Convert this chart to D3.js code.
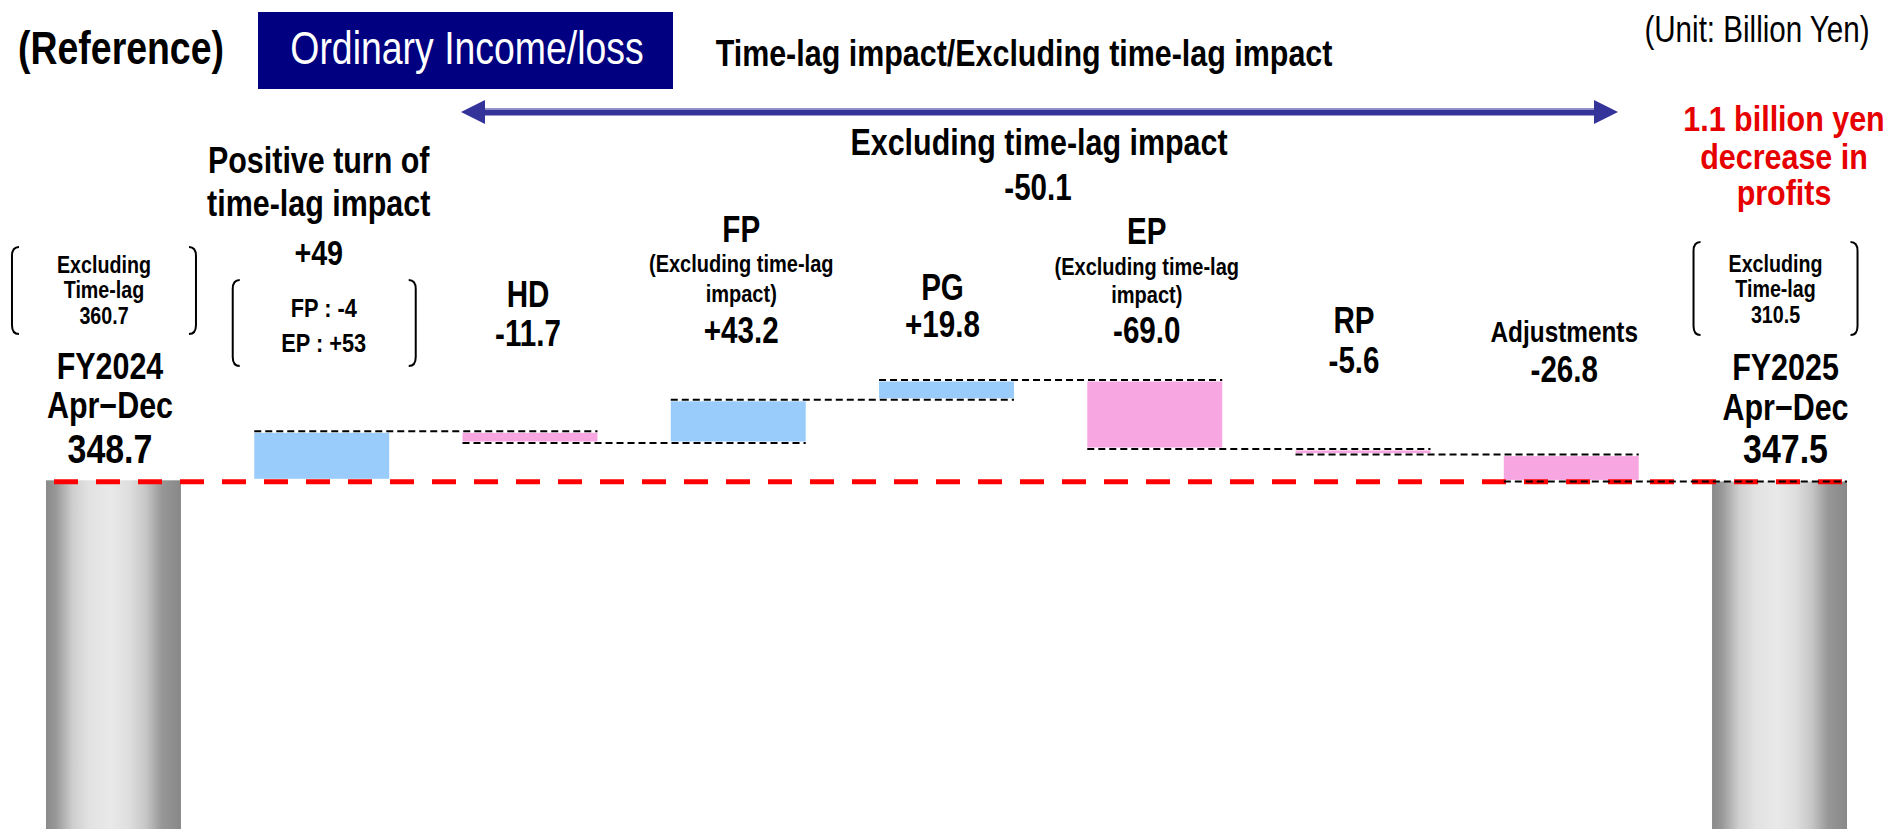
<!DOCTYPE html>
<html>
<head>
<meta charset="utf-8">
<script src="https://cdn.jsdelivr.net/npm/d3@7"></script>
<style>
  html, body { margin: 0; padding: 0; background: #fff; }
  svg { display: block; }
  text { font-family: "Liberation Sans", Arial, Helvetica, sans-serif; }
</style>
</head>
<body>
<svg id="chart" width="1889" height="829"></svg>
<script>
// ---- Data (billion yen) ----
const categories = ["FY2024", "TimeLag", "HD", "FP", "PG", "EP", "RP", "Adjustments", "FY2025"];
const kinds      = ["total", "delta", "delta", "delta", "delta", "delta", "delta", "delta", "total"];
const values     = [348.7, 49, -11.7, 43.2, 19.8, -69.0, -5.6, -26.8, 347.5];
const valueLabels = ["348.7", "+49", "-11.7", "+43.2", "+19.8", "-69.0", "-5.6", "-26.8", "347.5"];
const excludingTimeLag = ["360.7", "310.5"];
const timeLagSplit = ["FP : -4", "EP : +53"];
const headerTitle = "Ordinary Income/loss";
const unitNote = "(Unit: Billion Yen)";
const resultNote = ["1.1 billion yen", "decrease in", "profits"];

// ---- Layout ----
const W = 1889, H = 829;
const GROW = 1.06;             // condensed face: taller glyphs ...
const NARROW = 0.87 / GROW;    // ... squeezed horizontally to keep widths
const svg = d3.select("#chart");

const x = d3.scaleBand().domain(categories).range([46, 1847]).paddingInner(0.352).paddingOuter(0);
const y = d3.scaleLinear().domain([0, 450]).range([829, 379]);
const bw = x.bandwidth();
const cx = c => x(c) + bw / 2;

// waterfall steps
let running = 0;
const steps = categories.map((c, i) => {
  if (kinds[i] === "total") {
    running = values[i];
    return { c, kind: "total", a: 0, b: values[i] };
  }
  const a = running;
  running += values[i];
  return { c, kind: values[i] >= 0 ? "up" : "down", a, b: running };
});

// ---- Defs: cylinder shading for totals ----
const defs = svg.append("defs");
const grad = defs.append("linearGradient").attr("id", "cyl")
  .attr("x1", "0%").attr("x2", "100%").attr("y1", "0%").attr("y2", "0%");
[["0%", "#8a8a8a"], ["7%", "#979797"], ["20%", "#cfcfcf"], ["32%", "#e2e2e2"],
 ["48%", "#e9e9e9"], ["62%", "#dedede"], ["74%", "#c6c6c6"], ["86%", "#979797"], ["100%", "#888888"]]
  .forEach(([o, c]) => grad.append("stop").attr("offset", o).attr("stop-color", c));

// ---- Text helper ----
function txt(g, str, px, base, size, opt = {}) {
  const grow = opt.grow || GROW;
  const sx = opt.sx || NARROW;
  return g.append("text")
    .attr("transform", `translate(${px},${base}) scale(${sx},1)`)
    .attr("text-anchor", opt.anchor || "middle")
    .attr("font-size", size * grow)
    .attr("font-weight", opt.weight || "bold")
    .attr("fill", opt.fill || "#000")
    .text(str);
}

// ---- Bars ----
const inset = 1.5;
const colors = { up: "#9ACCFB", down: "#F8A6E2" };
const barG = svg.append("g");
barG.selectAll("rect.total").data(steps.filter(d => d.kind === "total")).join("rect")
  .attr("class", "total")
  .attr("x", d => x(d.c)).attr("width", bw)
  .attr("y", d => y(d.b)).attr("height", d => y(0) - y(d.b))
  .attr("fill", "url(#cyl)");
barG.selectAll("rect.delta").data(steps.filter(d => d.kind !== "total")).join("rect")
  .attr("class", "delta")
  .attr("x", d => x(d.c)).attr("width", bw)
  .attr("y", d => y(Math.max(d.a, d.b)) + inset)
  .attr("height", d => Math.max(1.5, Math.abs(y(d.a) - y(d.b)) - 2 * inset))
  .attr("fill", d => colors[d.kind]);

// ---- Red dashed baseline at the starting total ----
svg.append("line")
  .attr("x1", 54).attr("x2", 1842)
  .attr("y1", y(values[0]) + 1.5).attr("y2", y(values[0]) + 1.5)
  .attr("stroke", "#ff0000").attr("stroke-width", 5)
  .attr("stroke-dasharray", "24,18");

// ---- Connectors between consecutive bars ----
const conn = [];
for (let i = 1; i < steps.length - 1; i++) {
  conn.push({ level: steps[i].b, x1: x(categories[i]), x2: x(categories[i + 1]) + bw });
}
svg.append("g").selectAll("line").data(conn).join("line")
  .attr("x1", d => d.x1).attr("x2", d => d.x2)
  .attr("y1", d => y(d.level)).attr("y2", d => y(d.level))
  .attr("stroke", "#000").attr("stroke-width", 2)
  .attr("stroke-dasharray", "7,4");

// ---- Header ----
const head = svg.append("g");
txt(head, "(Reference)", 121, 64, 43);
head.append("rect").attr("x", 258).attr("y", 12).attr("width", 415).attr("height", 77).attr("fill", "#000080");
txt(head, headerTitle, 467, 64, 43, { weight: "normal", fill: "#fff" });
txt(head, "Time-lag impact/Excluding time-lag impact", 1024, 66, 35);
txt(head, unitNote, 1757, 42, 34, { weight: "normal" });

// double-headed arrow spanning the time-lag segments
const ay = 112, ax1 = 461, ax2 = 1618, ah = 24, aw = 12;
const arrow = svg.append("g");
arrow.append("rect").attr("x", ax1 + ah - 2).attr("y", ay - 3.5).attr("width", ax2 - ax1 - 2 * ah + 4).attr("height", 7).attr("fill", "#333399");
arrow.append("rect").attr("x", ax1 + ah - 2).attr("y", ay - 3.5).attr("width", ax2 - ax1 - 2 * ah + 4).attr("height", 1.5).attr("fill", "#8d8dc8");
arrow.append("path").attr("d", `M${ax1},${ay} L${ax1 + ah},${ay - aw} L${ax1 + ah},${ay + aw} Z`).attr("fill", "#333399");
arrow.append("path").attr("d", `M${ax2},${ay} L${ax2 - ah},${ay - aw} L${ax2 - ah},${ay + aw} Z`).attr("fill", "#333399");

// overall caption for the time-lag-excluded part
const totalExcl = d3.sum(values.slice(2, 8));
txt(svg, "Excluding time-lag impact", 1039, 155, 35);
txt(svg, totalExcl.toFixed(1), 1038, 200, 34);

// result note
resultNote.forEach((s, i) => txt(svg, s, 1784, [131, 168.5, 205][i], 35, { fill: "#e60000", grow: 1, sx: 0.87 }));

// ---- Category labels ----
const labelSpec = [
  { dx: -3.5, lines: [["FY2024", 379, 35], ["Apr\u2212Dec", 418, 35], [valueLabels[0], 463, 39]] },
  { dx: -3,   lines: [["Positive turn of", 173, 35], ["time-lag impact", 216, 35], [valueLabels[1], 265, 33]] },
  { dx: -2,   lines: [["HD", 307, 34], [valueLabels[2], 346, 34]] },
  { dx: 3,    lines: [["FP", 242, 34], ["(Excluding time-lag", 272, 23], ["impact)", 302, 23], [valueLabels[3], 343, 34]] },
  { dx: -4,   lines: [["PG", 300, 34], [valueLabels[4], 337, 34]] },
  { dx: -8,   lines: [["EP", 244, 34], ["(Excluding time-lag", 275, 23], ["impact)", 303, 23], [valueLabels[5], 343, 34]] },
  { dx: -9,   lines: [["RP", 333, 34], [valueLabels[6], 373, 34]] },
  { dx: -7,   lines: [["Adjustments", 342, 28], [valueLabels[7], 382, 34]] },
  { dx: 6,    lines: [["FY2025", 380, 35], ["Apr\u2212Dec", 420, 35], [valueLabels[8], 463, 39]] }
];
const labG = svg.append("g");
labelSpec.forEach((spec, i) => {
  spec.lines.forEach(([s, base, size]) => txt(labG, s, cx(categories[i]) + spec.dx, base, size));
});

// ---- Bracketed notes ----
function bracketBox(g, left, right, top, bottom) {
  const h = 7, v = 9;
  g.append("path").attr("d", `M${left + h},${top} Q${left},${top} ${left},${top + v} L${left},${bottom - v} Q${left},${bottom} ${left + h},${bottom}`)
    .attr("fill", "none").attr("stroke", "#000").attr("stroke-width", 2);
  g.append("path").attr("d", `M${right - h},${top} Q${right},${top} ${right},${top + v} L${right},${bottom - v} Q${right},${bottom} ${right - h},${bottom}`)
    .attr("fill", "none").attr("stroke", "#000").attr("stroke-width", 2);
}
const notes = svg.append("g");
const noteSize = 22.6;
// before / after, excluding time-lag
const startC = cx(categories[0]) - 9.5, endC = cx(categories[8]) - 4;
bracketBox(notes, startC - 92, startC + 92, 247, 334);
["Excluding", "Time-lag", excludingTimeLag[0]].forEach((s, i) => txt(notes, s, startC, [272.5, 298, 323.5][i], noteSize));
bracketBox(notes, endC - 82, endC + 82, 242, 335);
["Excluding", "Time-lag", excludingTimeLag[1]].forEach((s, i) => txt(notes, s, endC, [271.5, 297, 322.5][i], noteSize));
// time-lag split by segment
const tlC = cx(categories[1]) + 2;
bracketBox(notes, tlC - 91, tlC + 92, 280, 366);
timeLagSplit.forEach((s, i) => txt(notes, s, tlC, [317, 352][i], 25));
</script>
</body>
</html>
